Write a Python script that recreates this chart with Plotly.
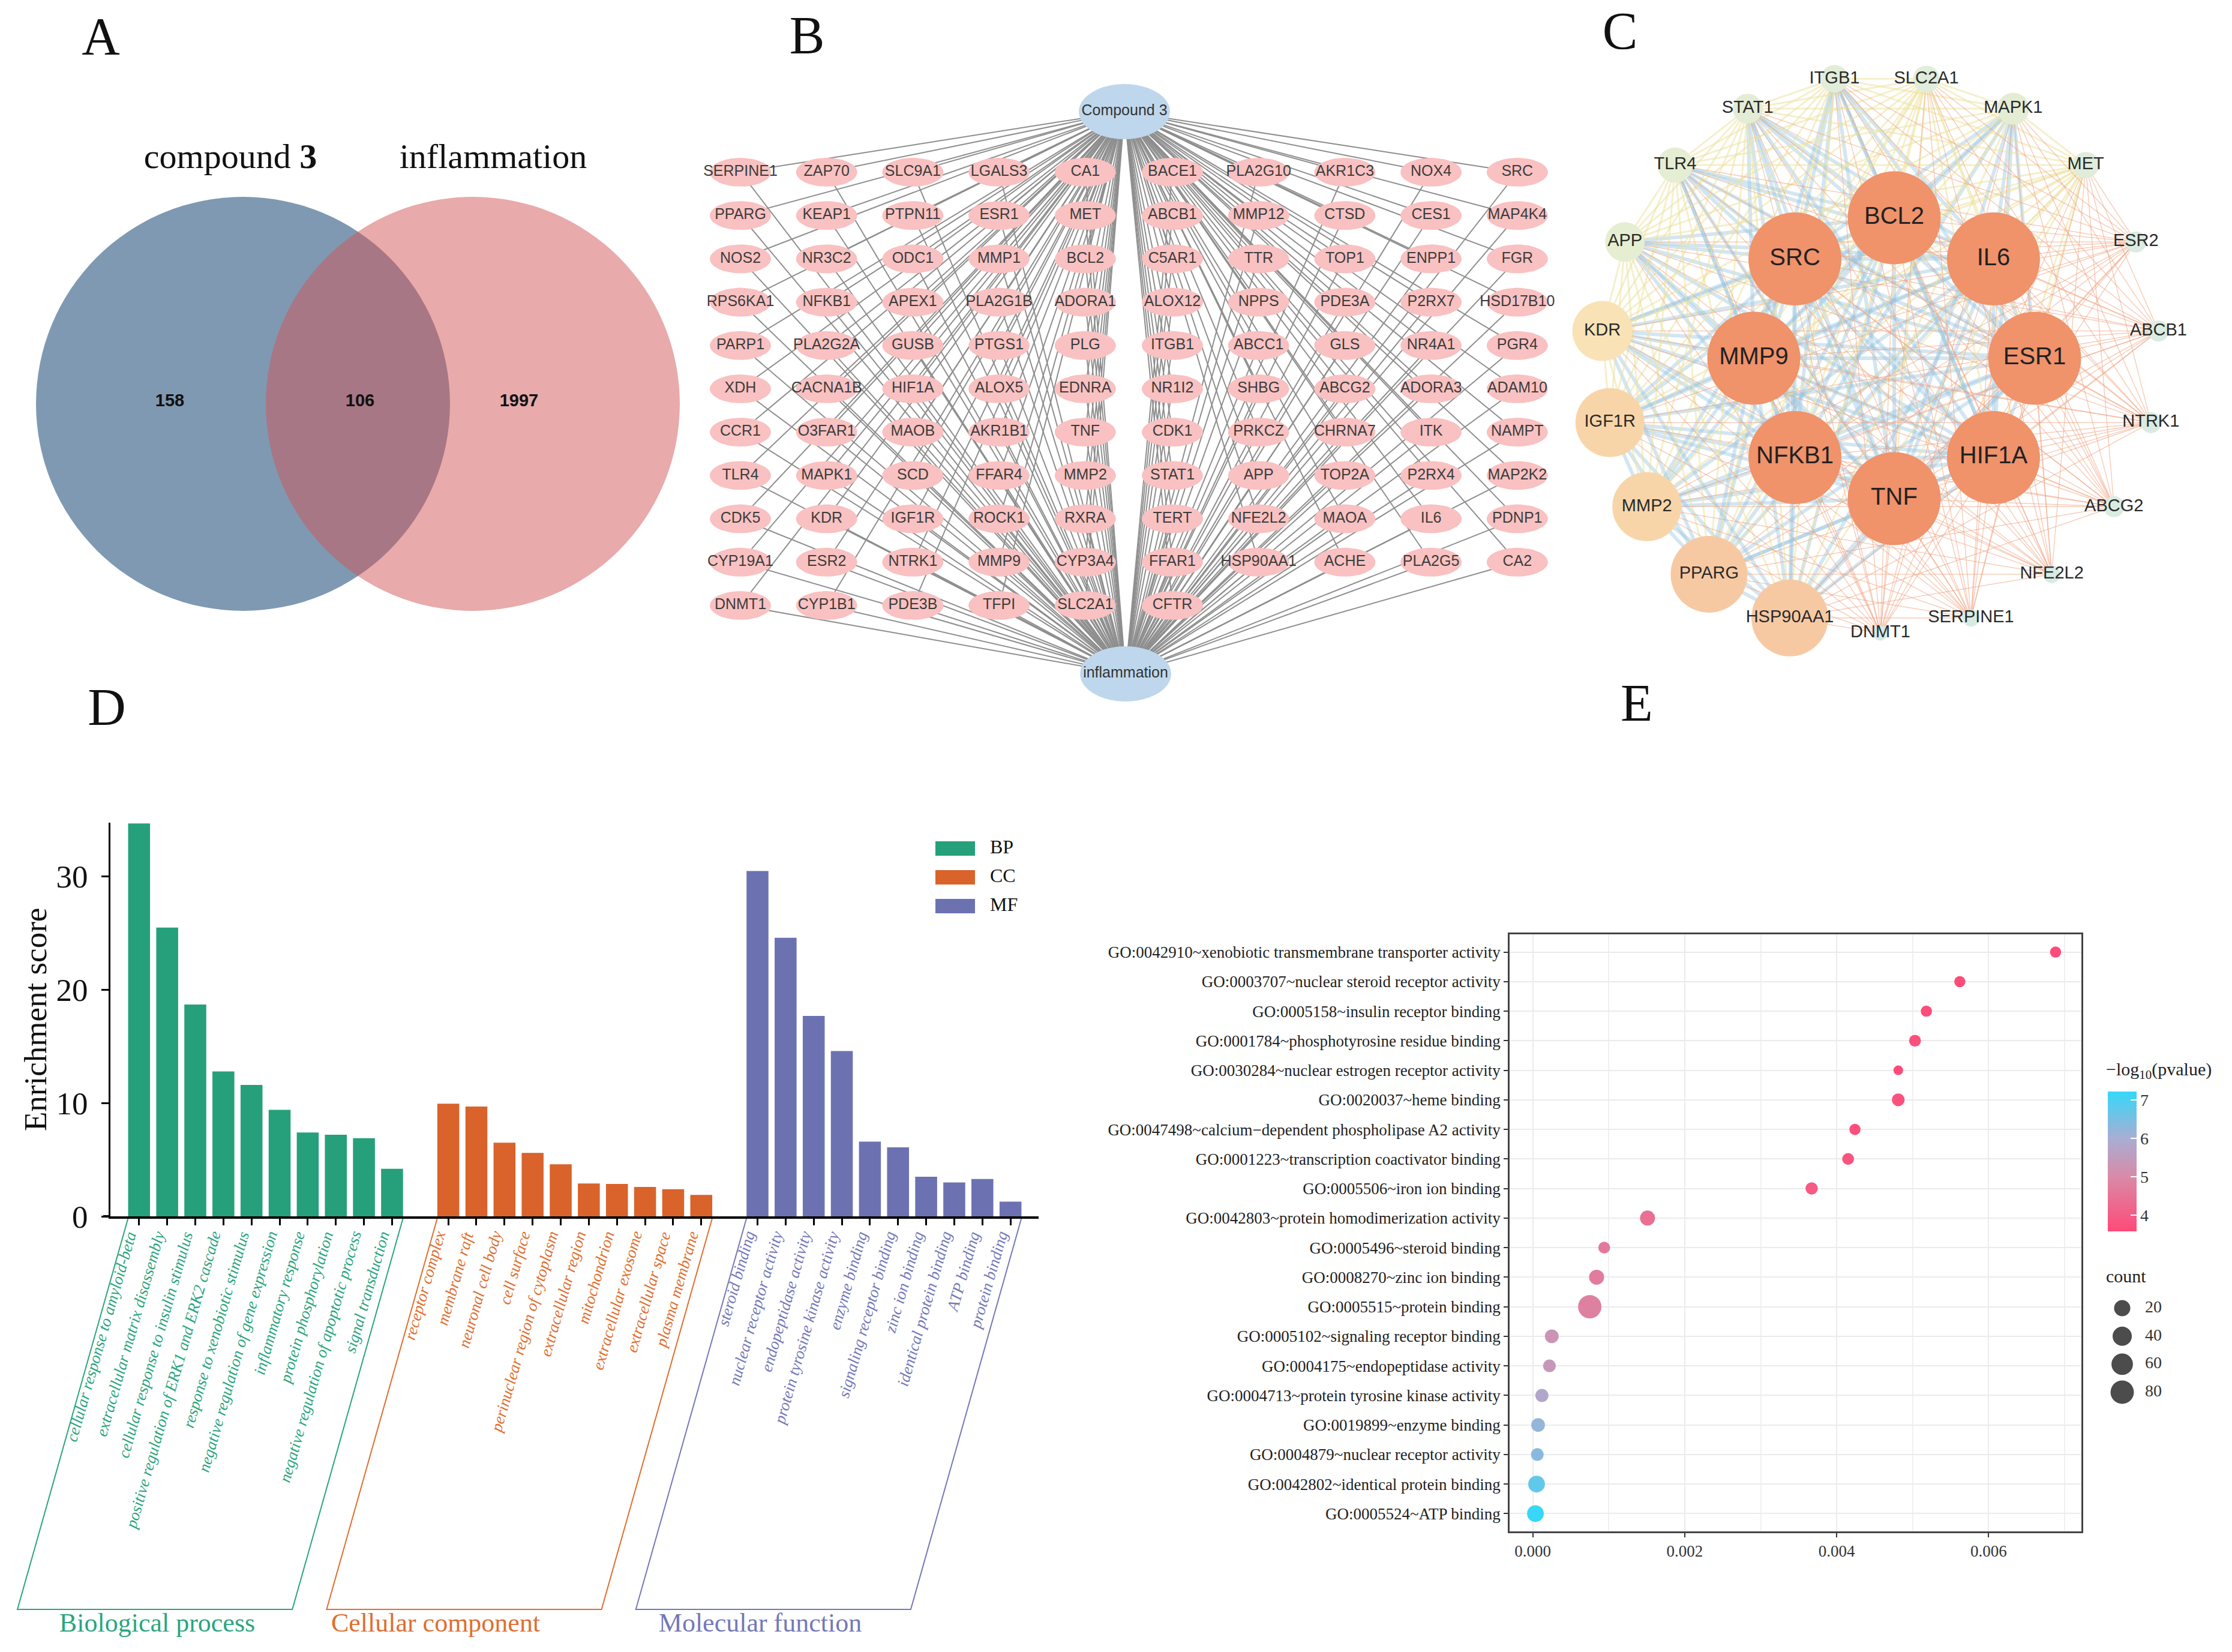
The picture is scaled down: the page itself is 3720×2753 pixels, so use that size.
import numpy as np
import plotly.graph_objects as go

W, H = 3720, 2753
SANS = "Liberation Sans, Arial, sans-serif"
SERIF = "Liberation Serif, Times New Roman, serif"

# ======================= DATA =======================
# Panel A - Venn
venn_titles = ["compound <b>3</b>", "inflammation"]
venn_counts = [158, 106, 1997]          # compound only, shared, inflammation only

# Panel B - compound-target-disease network
hub_names = ["Compound 3", "inflammation"]
b_columns = [
    ["SERPINE1", "PPARG", "NOS2", "RPS6KA1", "PARP1", "XDH", "CCR1", "TLR4", "CDK5", "CYP19A1", "DNMT1"],
    ["ZAP70", "KEAP1", "NR3C2", "NFKB1", "PLA2G2A", "CACNA1B", "O3FAR1", "MAPK1", "KDR", "ESR2", "CYP1B1"],
    ["SLC9A1", "PTPN11", "ODC1", "APEX1", "GUSB", "HIF1A", "MAOB", "SCD", "IGF1R", "NTRK1", "PDE3B"],
    ["LGALS3", "ESR1", "MMP1", "PLA2G1B", "PTGS1", "ALOX5", "AKR1B1", "FFAR4", "ROCK1", "MMP9", "TFPI"],
    ["CA1", "MET", "BCL2", "ADORA1", "PLG", "EDNRA", "TNF", "MMP2", "RXRA", "CYP3A4", "SLC2A1"],
    ["BACE1", "ABCB1", "C5AR1", "ALOX12", "ITGB1", "NR1I2", "CDK1", "STAT1", "TERT", "FFAR1", "CFTR"],
    ["PLA2G10", "MMP12", "TTR", "NPPS", "ABCC1", "SHBG", "PRKCZ", "APP", "NFE2L2", "HSP90AA1"],
    ["AKR1C3", "CTSD", "TOP1", "PDE3A", "GLS", "ABCG2", "CHRNA7", "TOP2A", "MAOA", "ACHE"],
    ["NOX4", "CES1", "ENPP1", "P2RX7", "NR4A1", "ADORA3", "ITK", "P2RX4", "IL6", "PLA2G5"],
    ["SRC", "MAP4K4", "FGR", "HSD17B10", "PGR4", "ADAM10", "NAMPT", "MAP2K2", "PDNP1", "CA2"],
]

# Panel C - PPI network (inner ring clockwise from top, outer ring clockwise)
ppi_inner = ["BCL2", "IL6", "ESR1", "HIF1A", "TNF", "NFKB1", "MMP9", "SRC"]
ppi_inner_degree = [68, 68, 68, 68, 68, 68, 68, 68]
ppi_outer = ["ITGB1", "SLC2A1", "MAPK1", "MET", "ESR2", "ABCB1", "NTRK1", "ABCG2", "NFE2L2",
             "SERPINE1", "DNMT1", "HSP90AA1", "PPARG", "MMP2", "IGF1R", "KDR", "APP", "TLR4", "STAT1"]
ppi_outer_degree = [20, 19, 24, 19, 15, 15, 15, 15, 12, 12, 10, 50, 50, 44, 44, 38, 31, 27, 22]

# Panel D - GO enrichment bars
bp_terms = ["cellular response to amyloid-beta", "extracellular matrix disassembly",
            "cellular response to insulin stimulus", "positive regulation of ERK1 and ERK2 cascade",
            "response to xenobiotic stimulus", "negative regulation of gene expression",
            "inflammatory response", "protein phosphorylation",
            "negative regulation of apoptotic process", "signal transduction"]
bp_scores = [34.7, 25.5, 18.7, 12.8, 11.6, 9.4, 7.4, 7.2, 6.9, 4.2]
cc_terms = ["receptor complex", "membrane raft", "neuronal cell body", "cell surface",
            "perinuclear region of cytoplasm", "extracellular region", "mitochondrion",
            "extracellular exosome", "extracellular space", "plasma membrane"]
cc_scores = [9.95, 9.7, 6.5, 5.6, 4.6, 2.9, 2.86, 2.6, 2.4, 1.9]
mf_terms = ["steroid binding", "nuclear receptor activity", "endopeptidase activity",
            "protein tyrosine kinase activity", "enzyme binding", "signaling receptor binding",
            "zinc ion binding", "identical protein binding", "ATP binding", "protein binding"]
mf_scores = [30.5, 24.6, 17.7, 14.6, 6.6, 6.1, 3.5, 3.0, 3.3, 1.3]
group_names = ["BP", "CC", "MF"]
group_titles = ["Biological process", "Cellular component", "Molecular function"]
d_yticks = [0, 10, 20, 30]

# Panel E - MF bubble plot (top to bottom)
e_terms = ["GO:0042910~xenobiotic transmembrane transporter activity",
           "GO:0003707~nuclear steroid receptor activity",
           "GO:0005158~insulin receptor binding",
           "GO:0001784~phosphotyrosine residue binding",
           "GO:0030284~nuclear estrogen receptor activity",
           "GO:0020037~heme binding",
           "GO:0047498~calcium\u2212dependent phospholipase A2 activity",
           "GO:0001223~transcription coactivator binding",
           "GO:0005506~iron ion binding",
           "GO:0042803~protein homodimerization activity",
           "GO:0005496~steroid binding",
           "GO:0008270~zinc ion binding",
           "GO:0005515~protein binding",
           "GO:0005102~signaling receptor binding",
           "GO:0004175~endopeptidase activity",
           "GO:0004713~protein tyrosine kinase activity",
           "GO:0019899~enzyme binding",
           "GO:0004879~nuclear receptor activity",
           "GO:0042802~identical protein binding",
           "GO:0005524~ATP binding"]
e_x = [0.00688, 0.00562, 0.00518, 0.00503, 0.00481, 0.00481, 0.00424, 0.00415, 0.00367, 0.00151,
       0.00094, 0.00084, 0.00075, 0.00025, 0.00022, 0.00012, 0.00007, 0.00006, 0.00005, 0.000035]
e_logp = [3.6, 3.62, 3.65, 3.68, 3.6, 3.75, 3.7, 3.8, 3.95, 4.4,
          4.6, 4.7, 4.8, 5.3, 5.4, 5.8, 6.2, 6.35, 6.75, 7.2]
e_count = [3, 3, 3, 4, 2, 6, 3, 4, 5, 14, 4, 14, 80, 9, 6, 7, 9, 6, 23, 23]
e_xticks = [0.0, 0.002, 0.004, 0.006]
e_cticks = [4, 5, 6, 7]
count_breaks = [20, 40, 60, 80]

# ======================= FIGURE =======================
fig = go.Figure()
shapes = []
CANVAS = dict(xaxis="x", yaxis="y")


def add_text(xs, ys, texts, size, family=SANS, color="#222", pos="middle center", style=None):
    font = dict(family=family, size=size, color=color)
    if style:
        font["style"] = style
    fig.add_trace(go.Scatter(x=xs, y=ys, mode="text", text=texts, textposition=pos,
                             textfont=font, hoverinfo="skip", showlegend=False, **CANVAS))


# ---------- Panel A : Venn ----------
va_cx = [405, 788]
va_cy, va_r = 673, 345
shapes.append(dict(type="circle", xref="x", yref="y", layer="below",
                   x0=va_cx[0] - va_r, x1=va_cx[0] + va_r, y0=va_cy - va_r, y1=va_cy + va_r,
                   fillcolor="#7f99b2", line=dict(width=0)))
shapes.append(dict(type="circle", xref="x", yref="y", layer="below",
                   x0=va_cx[1] - va_r, x1=va_cx[1] + va_r, y0=va_cy - va_r, y1=va_cy + va_r,
                   fillcolor="rgba(210,86,88,0.5)", line=dict(width=0)))
add_text([384, 822], [265, 265], venn_titles, 58, family=SERIF, color="#111")
add_text([283, 600, 865], [670, 670, 670], [f"<b>{v}</b>" for v in venn_counts], 29, color="#111")

# ---------- Panel B : network ----------
bx_left, bx_right, bdx = 1234, 1954, 143.7
by0, bdy = 287, 72.2
hub_pos = [(1874, 186), (1876, 1123)]
gx, gy, gname = [], [], []
for ci, col in enumerate(b_columns):
    base = bx_left + ci * bdx if ci < 5 else bx_right + (ci - 5) * bdx
    for ri, g in enumerate(col):
        gx.append(base)
        gy.append(by0 + ri * bdy)
        gname.append(g)

ex, ey = [], []
for x, y in zip(gx, gy):
    for hx, hy in hub_pos:
        ex += [x, hx, None]
        ey += [y, hy, None]
fig.add_trace(go.Scatter(x=ex, y=ey, mode="lines", line=dict(color="#8e8e8e", width=2),
                         hoverinfo="skip", showlegend=False, **CANVAS))

t = np.linspace(0, 2 * np.pi, 44)
px_, py_ = [], []
for x, y in zip(gx, gy):
    px_ += list(x + 51 * np.cos(t)) + [None]
    py_ += list(y + 24 * np.sin(t)) + [None]
fig.add_trace(go.Scatter(x=px_, y=py_, mode="lines", fill="toself", fillcolor="#f9c1c1",
                         line=dict(width=0, color="#f9c1c1"), hoverinfo="skip", showlegend=False, **CANVAS))
hx_, hy_ = [], []
for hx, hy in hub_pos:
    hx_ += list(hx + 76 * np.cos(t)) + [None]
    hy_ += list(hy + 46 * np.sin(t)) + [None]
fig.add_trace(go.Scatter(x=hx_, y=hy_, mode="lines", fill="toself", fillcolor="#bed7ec",
                         line=dict(width=0, color="#bed7ec"), hoverinfo="skip", showlegend=False, **CANVAS))
add_text(gx, gy, gname, 25, color="#3c3c3c")
add_text([p[0] for p in hub_pos], [p[1] for p in hub_pos], hub_names, 25, color="#333")

# ---------- Panel C : PPI ----------
ci_c, ci_r = (3157, 597), 234
co_c, co_r = (3134, 590), 465
names = ppi_inner + ppi_outer
deg = np.array(ppi_inner_degree + ppi_outer_degree, dtype=float)
n_in, n_out = len(ppi_inner), len(ppi_outer)
ang_in = np.deg2rad(np.arange(n_in) * 360.0 / n_in)
ang_out = np.deg2rad(-180.0 / n_out + np.arange(n_out) * 360.0 / n_out)
nx = np.concatenate([ci_c[0] + ci_r * np.sin(ang_in), co_c[0] + co_r * np.sin(ang_out)])
ny = np.concatenate([ci_c[1] - ci_r * np.cos(ang_in), co_c[1] - co_r * np.cos(ang_out)])

edge_sets = {"blue": ([], []), "yellow": ([], []), "orange": ([], [])}
N = len(names)
for i in range(N):
    for j in range(i + 1, N):
        a, b = deg[i], deg[j]
        if max(a, b) <= 15:
            continue
        if min(a, b) <= 15:
            cat = "orange"
        elif a + b >= 88:
            cat = "blue"
        else:
            cat = "yellow"
        edge_sets[cat][0].extend([nx[i], nx[j], None])
        edge_sets[cat][1].extend([ny[i], ny[j], None])
edge_style = {"blue": ("rgba(150,196,222,0.42)", 6),
              "yellow": ("rgba(236,226,160,0.55)", 3),
              "orange": ("rgba(240,158,122,0.5)", 1.5)}
for cat in ["blue", "yellow", "orange"]:
    col, wd = edge_style[cat]
    fig.add_trace(go.Scatter(x=edge_sets[cat][0], y=edge_sets[cat][1], mode="lines",
                             line=dict(color=col, width=wd), hoverinfo="skip", showlegend=False, **CANVAS))

node_size = np.interp(deg, [10, 15, 20, 31, 38, 44, 50, 68], [25, 35, 46, 66, 100, 115, 128, 155])
node_cs = [[0, "#d5eae7"], [0.1, "#dbece0"], [0.2, "#e3edd5"], [0.36, "#e6eed2"], [0.48, "#f9e2b6"],
           [0.59, "#f8d5a9"], [0.69, "#f7c9a3"], [0.85, "#f3a87f"], [1, "#f0926a"]]
fig.add_trace(go.Scatter(x=nx, y=ny, mode="markers",
                         marker=dict(size=node_size, color=deg, colorscale=node_cs, cmin=10, cmax=68,
                                     line=dict(width=0), opacity=1),
                         hoverinfo="skip", showlegend=False, **CANVAS))
add_text(nx[:n_in], ny[:n_in], ppi_inner, 40, color="#222")
add_text(nx[n_in:], ny[n_in:], ppi_outer, 29, color="#2a2a2a")

# ---------- Panel D : bar chart ----------
d_left, d_right, d_top, d_bot = 184, 1731, 1371, 2027
d_xr = [-1.02, 32.0]
d_ymax = 34.76
bar_w = 0.78
grp_colors = ["#25a07a", "#d9632b", "#6c72b1"]
txt_colors = ["#2aa57e", "#df6e2f", "#7478b8"]
grp_terms = [bp_terms, cc_terms, mf_terms]
grp_scores = [bp_scores, cc_scores, mf_scores]
tickvals = []
slot_pos = []


def dpx(v):
    return d_left + (v - d_xr[0]) * (d_right - d_left) / (d_xr[1] - d_xr[0])


for g in range(3):
    xs = [g * (len(grp_terms[g]) + 1) + k for k in range(len(grp_terms[g]))]
    slot_pos.append(xs)
    fig.add_trace(go.Bar(x=xs, y=grp_scores[g], width=bar_w, marker=dict(color=grp_colors[g], line=dict(width=0)),
                         xaxis="x2", yaxis="y2", showlegend=False, hoverinfo="skip"))
    tickvals += xs
    # rotated category labels, anchored just below each tick
    for xv, term in zip(xs, grp_terms[g]):
        fig.add_annotation(xref="x", yref="y", x=dpx(xv) + 4, y=2046, text=term, textangle=-74,
                           xanchor="right", yanchor="top", showarrow=False,
                           font=dict(family=SERIF, size=27, color=txt_colors[g], style="italic"))

box_top, box_bot = 2030, 2682
slant = (box_bot - box_top) / np.tan(np.deg2rad(74.2))
for g in range(3):
    xl = dpx(slot_pos[g][0] - bar_w / 2)
    xr = dpx(slot_pos[g][-1] + bar_w / 2)
    fig.add_trace(go.Scatter(x=[xl, xl - slant, xr - slant, xr], y=[box_top, box_bot, box_bot, box_top],
                             mode="lines", line=dict(color=txt_colors[g], width=2),
                             hoverinfo="skip", showlegend=False, **CANVAS))
add_text([262, 726, 1267], [2708] * 3,
         [f'<span style="color:{txt_colors[g]}">{group_titles[g]}</span>' for g in range(3)],
         44, family=SERIF)
# x axis line reaching slightly left of the y axis (ggplot style)
fig.add_trace(go.Scatter(x=[172, d_left], y=[d_bot, d_bot], mode="lines", line=dict(color="black", width=4),
                         hoverinfo="skip", showlegend=False, **CANVAS))
# legend
for g in range(3):
    yc = 1414 + g * 48
    shapes.append(dict(type="rect", xref="x", yref="y", x0=1559, x1=1625, y0=yc - 12, y1=yc + 12,
                       fillcolor=grp_colors[g], line=dict(width=0)))
add_text([1650] * 3, [1414, 1462, 1510], group_names, 32, family=SERIF, color="#111", pos="middle right")
fig.add_annotation(xref="x", yref="y", x=59, y=1699, text="Enrichment score", textangle=-90,
                   showarrow=False, font=dict(family=SERIF, size=53, color="#111"))

# ---------- Panel E : bubble plot ----------
e_left, e_right, e_top, e_bot = 2516, 3469, 1557, 2552


def bubble_d(c):
    return 16 + 2.6 * np.sqrt(np.maximum(np.asarray(c, dtype=float) - 2, 0))


e_cs = [[0, "#ff4a78"], [0.39, "#d98aa7"], [0.665, "#a8aed3"], [1, "#36d8f8"]]
fig.add_trace(go.Scatter(
    x=e_x, y=e_terms, mode="markers", xaxis="x3", yaxis="y3", showlegend=False, hoverinfo="skip",
    marker=dict(size=bubble_d(e_count), sizemode="diameter", color=e_logp, colorscale=e_cs,
                cmin=3.58, cmax=7.22, line=dict(width=0), opacity=1,
                colorbar=dict(x=3513 / W, xanchor="left", xpad=0, y=1 - 1935.5 / H, yanchor="middle",
                              ypad=0, len=233, lenmode="pixels", thickness=48, outlinewidth=0,
                              tickvals=e_cticks, ticks="inside", ticklen=10, tickcolor="white", tickwidth=2,
                              tickfont=dict(family=SERIF, size=28, color="#333")))))
add_text([3510], [1784], ["\u2212log<sub>10</sub>(pvalue)"], 30, family=SERIF, color="#222", pos="middle right")
add_text([3510], [2129], ["count"], 30, family=SERIF, color="#222", pos="middle right")
leg_y = [2180 + k * 46.7 for k in range(len(count_breaks))]
fig.add_trace(go.Scatter(x=[3537] * len(count_breaks), y=leg_y, mode="markers",
                         marker=dict(size=bubble_d(count_breaks), color="black", line=dict(width=0)),
                         hoverinfo="skip", showlegend=False, **CANVAS))
add_text([3575] * len(count_breaks), leg_y, [str(c) for c in count_breaks], 28, family=SERIF,
         color="#333", pos="middle right")

# ---------- panel letters ----------
add_text([168, 1345, 2700, 178, 2728], [68, 66, 59, 1186, 1179], ["A", "B", "C", "D", "E"], 88,
         family=SERIF, color="#111")

# ======================= LAYOUT =======================
fig.update_layout(
    width=W, height=H, autosize=False, margin=dict(l=0, r=0, t=0, b=0, pad=0, autoexpand=False),
    paper_bgcolor="white", plot_bgcolor="rgba(0,0,0,0)", showlegend=False, shapes=shapes,
    xaxis=dict(domain=[0, 1], range=[0, W], visible=False, fixedrange=True, automargin=False),
    yaxis=dict(domain=[0, 1], range=[H, 0], visible=False, fixedrange=True, automargin=False),
    xaxis2=dict(domain=[d_left / W, d_right / W], range=d_xr, anchor="y2", tickvals=tickvals,
                showticklabels=False, ticks="outside", ticklen=11, tickwidth=3,
                tickcolor="black", showline=True, linecolor="black", linewidth=4, showgrid=False,
                zeroline=False, automargin=False),
    yaxis2=dict(domain=[1 - d_bot / H, 1 - d_top / H], range=[0, d_ymax], anchor="x2", tickvals=d_yticks,
                ticks="outside", ticklen=12, tickwidth=3, tickcolor="black", showline=True,
                linecolor="black", linewidth=3, showgrid=False, zeroline=False, automargin=False,
                ticklabelstandoff=12, tickfont=dict(family=SERIF, size=53, color="#111")),
    xaxis3=dict(domain=[e_left / W, e_right / W], range=[-0.000305, 0.00722], anchor="y3",
                tickvals=e_xticks, ticktext=[f"{v:.3f}" for v in e_xticks], ticks="outside", ticklen=7,
                tickwidth=2, tickcolor="#333", showline=True, mirror=True, linecolor="#444", linewidth=2.5,
                showgrid=True, gridcolor="#ebebeb", gridwidth=2, zeroline=False, automargin=False,
                minor=dict(tickvals=[0.001, 0.003, 0.005, 0.007], showgrid=True, gridcolor="#f0f0f0",
                           gridwidth=1.5, ticks=""),
                tickfont=dict(family=SERIF, size=27, color="#333")),
    yaxis3=dict(domain=[1 - e_bot / H, 1 - e_top / H], anchor="x3", type="category",
                categoryorder="array", categoryarray=e_terms[::-1], range=[-0.6, len(e_terms) - 0.4],
                ticks="outside", ticklen=7, tickwidth=2, tickcolor="#333", showline=True, mirror=True,
                linecolor="#444", linewidth=2.5, showgrid=True, gridcolor="#ebebeb", gridwidth=2,
                zeroline=False, automargin=False, tickfont=dict(family=SERIF, size=27, color="#222")),
)

fig.write_html("out.html", config={"displayModeBar": False},
               post_script="document.body.style.margin='0px';")
